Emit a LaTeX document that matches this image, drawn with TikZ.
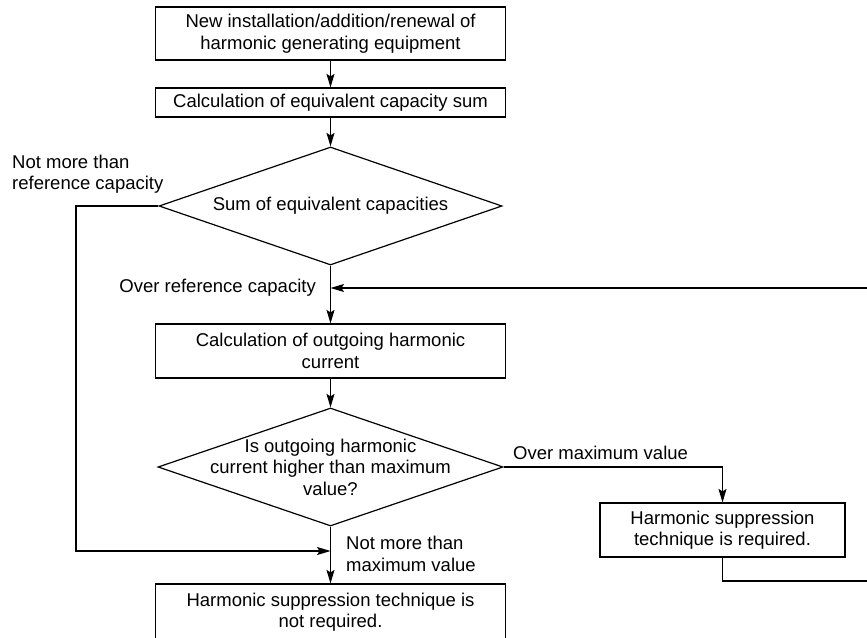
\documentclass[tikz,border=0pt]{standalone}
\usepackage{fontspec}
\setmainfont{Liberation Sans}
\usetikzlibrary{shapes.geometric,arrows.meta}
\begin{document}
\begin{tikzpicture}[x=1pt,y=-1pt,
  every node/.style={font=\fontsize{18.5pt}{21.5pt}\selectfont},
  box/.style={draw, line width=1.2pt, minimum width=350pt, align=center, inner sep=0pt},
  dia/.style={draw, diamond, line width=1.2pt, inner sep=0pt},
  lbl/.style={inner sep=0pt, align=left},
  conn/.style={line width=1.1pt},
  arr/.style={conn, -{Stealth[length=13.5pt,width=8pt,inset=2.5pt]}}]
\path[use as bounding box, clip] (0,0) rectangle (867,637);
% boxes and decisions
\node[box, minimum height=53pt] (b1) at (330.5,33.5) {New installation/addition/renewal of\\harmonic generating equipment};
\node[box, minimum height=29pt] (b2) at (330.5,102.5) {Calculation of equivalent capacity sum};
\node[dia, minimum width=343pt, minimum height=118pt] (d1) at (330.5,206) {};
\node (d1t) at (d1.center) {Sum of equivalent capacities};
\node[box, minimum height=54pt] (b3) at (330.5,351) {Calculation of outgoing harmonic\\current};
\node[dia, minimum width=345pt, minimum height=118pt] (d2) at (330.5,467) {};
\node[align=center, inner sep=0pt] (d2t) at (d2.center) {Is outgoing harmonic\\current higher than maximum\\value?};
\node[box, minimum height=56pt] (b4) at (330.5,612) {Harmonic suppression technique is\\not required.};
\node[box, minimum width=245pt, minimum height=54pt] (b5) at (722.5,530) {Harmonic suppression\\technique is required.};
% labels
\node[lbl, anchor=west] (l1) at (12,174) {Not more than\\reference capacity};
\node[lbl, anchor=east] (l2) at (316,288) {Over reference capacity};
\node[lbl, anchor=west] (l3) at (513,453) {Over maximum value};
\node[lbl, anchor=west] (l4) at (346,554) {Not more than\\maximum value};
% corner coordinates
\coordinate (lc) at (76,551);
\coordinate (fbB) at (900,581);
\coordinate (fbT) at (900,288);
% connectors
\draw[arr] (b1.south) -- (b2.north);
\draw[arr] (b2.south) -- (d1.north);
\draw[arr] (d1.south) -- (b3.north);
\draw[arr] (b3.south) -- (d2.north);
\draw[arr] (d2.south) -- (b4.north);
\draw[arr] (d1.west) -| (lc) -- (d2.south |- lc);
\draw[arr] (d2.east) -| (b5.north);
\draw[arr] (b5.south) |- (fbB) -- (fbT) -- (d1.south |- fbT);
\end{tikzpicture}
\end{document}
